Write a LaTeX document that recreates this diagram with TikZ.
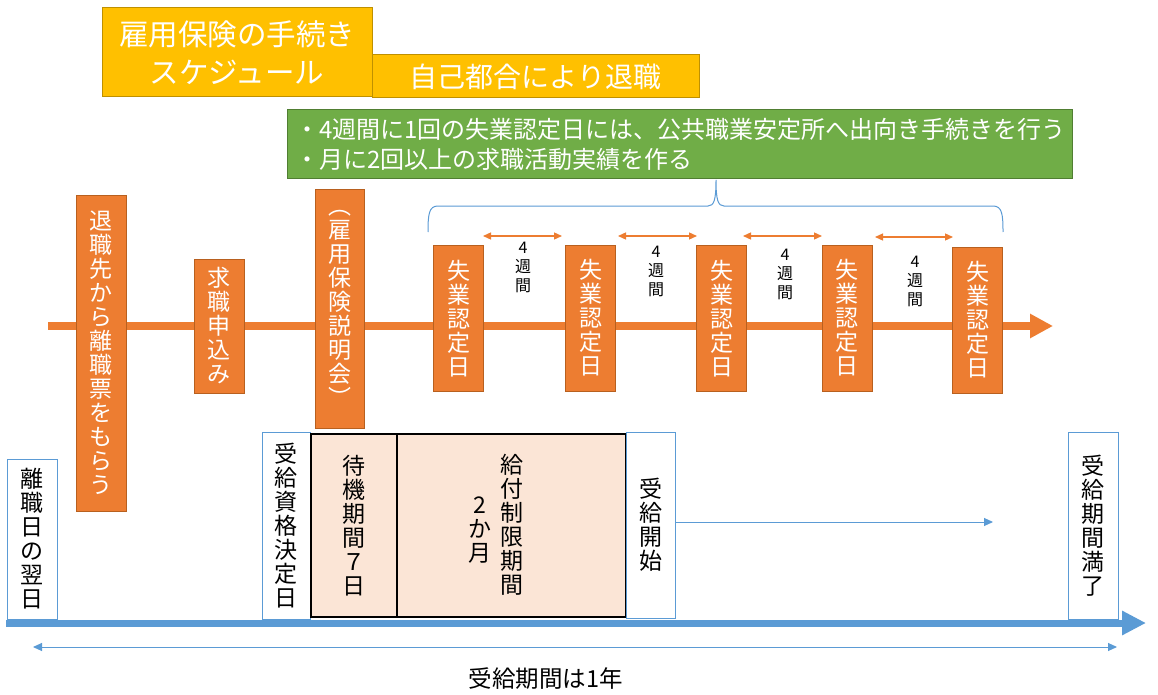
\documentclass[tikz,border=0pt]{standalone}
\usepackage{fontspec}
\setmainfont{Noto Sans CJK JP}
\usetikzlibrary{arrows.meta}
\definecolor{gold}{HTML}{FFC000}
\definecolor{goldline}{HTML}{BF9000}
\definecolor{grn}{HTML}{70AD47}
\definecolor{grnline}{HTML}{507E32}
\definecolor{org}{HTML}{ED7D31}
\definecolor{orgline}{HTML}{B8601F}
\definecolor{blu}{HTML}{5B9BD5}
\definecolor{peach}{HTML}{FBE5D6}
\begin{document}
\begin{tikzpicture}[x=1pt,y=-1pt,
  box/.style={rectangle, inner sep=0pt, align=center, line width=1pt},
  goldbox/.style={box, fill=gold, draw=goldline, text=white},
  orgbox/.style={box, fill=org, draw=orgline, text=white, minimum width=50pt, font=\fontsize{23}{24}\selectfont},
  shitsu/.style={orgbox, minimum height=146pt},
  blubox/.style={box, fill=white, draw=blu, text=black, minimum width=50pt, font=\fontsize{23}{24}\selectfont},
  peachbox/.style={box, fill=peach, draw=black, line width=1.5pt},
  vtext/.style={align=center, inner sep=0pt, text=black, font=\fontsize{23}{24}\selectfont},
  weeklbl/.style={align=center, inner sep=0pt, text=black, font=\fontsize{16}{19}\selectfont},
  orgarrow/.style={draw=org, line width=1.3pt, {Triangle[length=8pt,width=7pt]}-{Triangle[length=8pt,width=7pt]}},
  bluthin/.style={draw=blu, line width=1pt},
]
\useasboundingbox[fill=white] (0,0) rectangle (1158,695);

% orange timeline
\coordinate (ot0) at (48,326);
\coordinate (ot1) at (1053,326);
\draw[org, line width=8pt, -{Triangle[length=23pt,width=23pt]}] (ot0) -- (ot1);

% blue timeline
\coordinate (bt0) at (6,623);
\coordinate (bt1) at (1146,623);

% title boxes
\node[goldbox, minimum width=270pt, minimum height=89pt, font=\fontsize{29.5}{38}\selectfont] (title) at (237,52.5) {雇用保険の手続き\\スケジュール};
\node[goldbox, minimum width=327pt, minimum height=43pt, font=\fontsize{28}{30}\selectfont] (reason) at (535.5,76.5) {自己都合により退職};

% green box
\node[box, fill=grn, draw=grnline, text=white, align=left, minimum width=785pt, minimum height=69pt, text width=769pt, font=\fontsize{24}{30}\selectfont] (note) at (679.5,144.5) {・4週間に1回の失業認定日には、公共職業安定所へ出向き手続きを行う\\・月に2回以上の求職活動実績を作る};

% brace
\draw[blu, line width=1pt] (428,232) .. controls (428,214) and (429,206) .. (438,206) -- (708,206) .. controls (714,206) and (716,200) .. (716,180) .. controls (716,200) and (718,206) .. (724,206) -- (993,206) .. controls (1002,206) and (1003,214) .. (1003,232);

% orange boxes
\node[orgbox, minimum height=316pt] (o1) at (101,353) {退\\職\\先\\か\\ら\\離\\職\\票\\を\\も\\ら\\う};
\node[orgbox, minimum height=134pt] (o2) at (219,326) {求\\職\\申\\込\\み};
\node[orgbox, minimum height=239pt, minimum width=49pt] (o3) at (339.5,308.5) {︵\\雇\\用\\保\\険\\説\\明\\会\\︶};
\node[shitsu] (s1) at (458.5,318.5) {失\\業\\認\\定\\日};
\node[shitsu] (s2) at (590.5,318) {失\\業\\認\\定\\日};
\node[shitsu] (s3) at (721.5,318.5) {失\\業\\認\\定\\日};
\node[shitsu] (s4) at (847,318) {失\\業\\認\\定\\日};
\node[shitsu] (s5) at (977.5,320) {失\\業\\認\\定\\日};

% 4-week arrows
\coordinate (a1l) at (483,236); \coordinate (a1r) at (562,236);
\coordinate (a2l) at (618,236); \coordinate (a2r) at (697,236);
\coordinate (a3l) at (743,236); \coordinate (a3r) at (822,236);
\coordinate (a4l) at (875,237); \coordinate (a4r) at (953,237);
\draw[orgarrow] (a1l) -- (a1r);
\draw[orgarrow] (a2l) -- (a2r);
\draw[orgarrow] (a3l) -- (a3r);
\draw[orgarrow] (a4l) -- (a4r);
\node[weeklbl] (w1) at (523,267) {4\\週\\間};
\node[weeklbl] (w2) at (656,271) {4\\週\\間};
\node[weeklbl] (w3) at (785,274) {4\\週\\間};
\node[weeklbl] (w4) at (915,281) {4\\週\\間};

% bottom boxes
\node[blubox, minimum height=160pt] (b1) at (32,539) {離\\職\\日\\の\\翌\\日};
\node[blubox, minimum height=187pt, minimum width=48pt] (b2) at (286,525.5) {受\\給\\資\\格\\決\\定\\日};
\node[peachbox, minimum width=86pt, minimum height=183pt] (p1) at (354,525.5) {};
\node[vtext] (p1t) at (354,526) {待\\機\\期\\間\\７\\日};
\node[peachbox, minimum width=229pt, minimum height=183pt] (p2) at (511.5,525.5) {};
\node[vtext] (p2a) at (512,525) {給\\付\\制\\限\\期\\間};
\node[vtext] (p2b) at (480,530) {2\\か\\月};
\node[blubox, minimum height=186pt, minimum width=49pt] (b3) at (650.5,525) {受\\給\\開\\始};
\node[blubox, minimum height=187pt] (b4) at (1093,525.5) {受\\給\\期\\間\\満\\了};

% benefit start arrow
\coordinate (startend) at (993,522);
\draw[bluthin, -{Triangle[length=9pt,width=8pt]}] (b3.east |- startend) -- (startend);

% blue timeline on top
\draw[blu, line width=7pt, -{Triangle[length=24pt,width=23pt]}] (bt0) -- (bt1);

% one-year arrow
\coordinate (y0) at (33,647);
\coordinate (y1) at (1117,647);
\draw[bluthin, {Triangle[length=9pt,width=8pt]}-{Triangle[length=9pt,width=8pt]}] (y0) -- (y1);
\node[inner sep=0pt, text=black, font=\fontsize{23.5}{24}\selectfont] (year) at (546,679) {受給期間は1年};
\end{tikzpicture}
\end{document}
